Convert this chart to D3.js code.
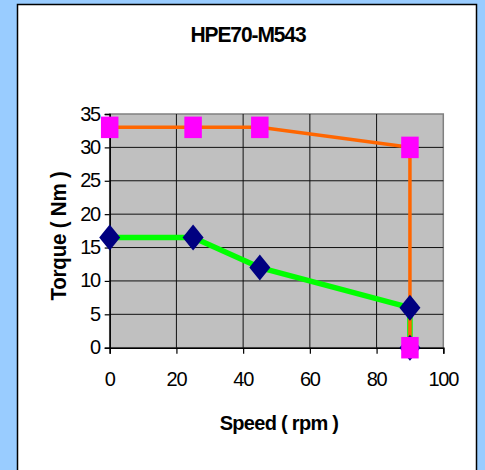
<!DOCTYPE html>
<html>
<head>
<meta charset="utf-8">
<script src="https://cdn.jsdelivr.net/npm/d3@7"></script>
<style>
  html, body { margin: 0; padding: 0; background: #99ccff; }
  svg { display: block; }
  text { font-family: "Liberation Sans", Arial, sans-serif; fill: #000; }
</style>
</head>
<body>
<svg id="chart" width="485" height="470"></svg>
<script>
// data
const speed = [0, 25, 45, 90, 90];
const torqueMax = [33, 33, 33, 30, 0];
const torqueRated = [16.5, 16.5, 12, 6, 0];
const xTicks = [0, 20, 40, 60, 80, 100];
const yTicks = [0, 5, 10, 15, 20, 25, 30, 35];
const chartTitle = "HPE70-M543";
const xTitle = "Speed ( rpm )";
const yTitle = "Torque ( Nm )";

const svg = d3.select("#chart");

// white chart panel
svg.append("rect")
  .attr("x", 17.5).attr("y", 4.5)
  .attr("width", 459).attr("height", 480)
  .attr("fill", "#fff")
  .attr("stroke", "#000").attr("stroke-width", 1.5);

const x = d3.scaleLinear().domain([0, 100]).range([109.7, 443.3]);
const y = d3.scaleLinear().domain([0, 35]).range([347.7, 114]);

// plot area
svg.append("rect")
  .attr("x", x(0)).attr("y", y(35))
  .attr("width", x(100) - x(0)).attr("height", y(0) - y(35))
  .attr("fill", "#c0c0c0")
  .attr("stroke", "#808080").attr("stroke-width", 1.5);

// grid
svg.append("g")
  .selectAll("line.h")
  .data(yTicks.filter((d) => d > 0 && d < 35))
  .enter().append("line")
  .attr("x1", x(0)).attr("x2", x(100))
  .attr("y1", (d) => y(d)).attr("y2", (d) => y(d))
  .attr("stroke", "#111").attr("stroke-width", 1);

svg.append("g")
  .selectAll("line.v")
  .data(xTicks.filter((d) => d > 0 && d < 100))
  .enter().append("line")
  .attr("x1", (d) => x(d)).attr("x2", (d) => x(d))
  .attr("y1", y(0)).attr("y2", y(35))
  .attr("stroke", "#111").attr("stroke-width", 1);

// axes
const xAxis = svg.append("g")
  .attr("transform", `translate(0, ${y(0)})`)
  .call(d3.axisBottom(x).tickValues(xTicks).tickSize(6).tickFormat(""));
const yAxis = svg.append("g")
  .attr("transform", `translate(${x(0)}, 0)`)
  .call(d3.axisLeft(y).tickValues(yTicks).tickSize(5).tickFormat(""));
[xAxis, yAxis].forEach((a) => {
  a.select(".domain").attr("stroke", "#000").attr("stroke-width", 1.5);
  a.selectAll(".tick line").attr("stroke", "#000").attr("stroke-width", 1.2);
});

// text helper: the picture's fonts are tightly spaced
function label(px, py, str, size, weight, anchor, spacing, sy, rot) {
  const g = svg.append("g")
    .attr("transform", `translate(${px}, ${py}) rotate(${rot || 0}) scale(1, ${sy})`);
  g.append("text")
    .attr("text-anchor", anchor)
    .attr("font-size", size)
    .attr("font-weight", weight)
    .attr("letter-spacing", spacing)
    .text(str);
}

xTicks.forEach((d) => label(x(d), 386, d, 20, "normal", "middle", -1.2, 1.04));
yTicks.forEach((d) => label(100, y(d) + 6.5, d, 20, "normal", "end", -1.2, 1.04));

label(248, 42, chartTitle, 21, "bold", "middle", -1.1, 1.03);
label(279, 430, xTitle, 20, "bold", "middle", -0.7, 1.02);
label(66, 236, yTitle, 20.5, "bold", "middle", -0.2, 1.07, -90);

// series
const maxData = speed.map((s, i) => ({ s, t: torqueMax[i] }));
const ratedData = speed.map((s, i) => ({ s, t: torqueRated[i] }));
const line = d3.line().x((d) => x(d.s)).y((d) => y(d.t));

svg.append("path").datum(ratedData)
  .attr("d", line).attr("fill", "none")
  .attr("stroke", "#00ff00").attr("stroke-width", 5.5)
  .attr("stroke-linejoin", "round");
svg.append("path").datum(maxData)
  .attr("d", line).attr("fill", "none")
  .attr("stroke", "#ff6600").attr("stroke-width", 3.5);

const dw = 10.5, dh = 13;
svg.append("g")
  .selectAll("path")
  .data(ratedData)
  .enter().append("path")
  .attr("d", (d) => {
    const cx = x(d.s), cy = y(d.t);
    return `M${cx},${cy - dh}L${cx + dw},${cy}L${cx},${cy + dh}L${cx - dw},${cy}Z`;
  })
  .attr("fill", "#000080");

const sw = 17.5, sh = 21.5;
svg.append("g")
  .selectAll("rect")
  .data(maxData)
  .enter().append("rect")
  .attr("x", (d) => x(d.s) - sw / 2)
  .attr("y", (d) => y(d.t) - sh / 2)
  .attr("width", sw).attr("height", sh)
  .attr("fill", "#ff00ff");
</script>
</body>
</html>
